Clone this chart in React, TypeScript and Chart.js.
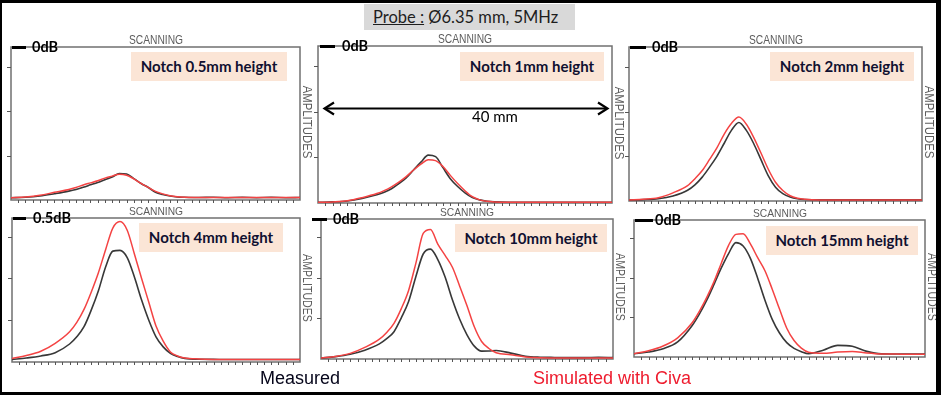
import React, { useEffect, useRef } from "react";
import { Chart, registerables } from "chart.js";

Chart.register(...registerables);

// ---------- DATA ----------
const positionsMm = [0, 2, 4, 6, 8, 9, 10, 11, 12, 13, 14, 15, 16, 17, 18, 19, 20, 21, 22, 23, 24, 26, 28, 30, 32, 34, 36, 38, 40];

const measured05 = [1.5, 1.8, 2.6, 4.1, 5.8, 6.9, 8.3, 9.9, 11.5, 13.3, 15, 17.3, 17, 14, 10.8, 8.2, 5.1, 3.6, 2.6, 2, 1.8, 1.6, 1.8, 1.5, 1.7, 1.5, 1.7, 1.5, 1.6];
const simulated05 = [1.5, 2, 3.1, 5, 6.9, 8.2, 9.8, 11.2, 12.6, 14.3, 15.6, 16.9, 16.2, 13.8, 10.8, 8.2, 5.6, 4, 2.8, 2.1, 1.8, 1.7, 1.7, 1.7, 1.7, 1.7, 1.7, 1.7, 1.7];

const measured1 = [0.4, 0.7, 1.3, 2.9, 5.2, 6.8, 9.1, 12.4, 16, 21, 26, 30.5, 29.5, 22.5, 15.5, 10.5, 6.5, 3.5, 2, 1.1, 0.7, 0.5, 0.5, 0.5, 0.5, 0.5, 0.5, 0.5, 0.5];
const simulated1 = [0.4, 0.7, 1.4, 3.4, 6, 7.9, 10.3, 13.3, 16.8, 21, 24.7, 27.6, 27, 23.2, 17.6, 12.4, 7.8, 4, 2, 1.1, 0.7, 0.5, 0.5, 0.5, 0.5, 0.5, 0.5, 0.5, 0.5];

const measured2 = [0.6, 0.9, 1.5, 3.3, 7, 10.5, 15.5, 22, 29, 37.5, 46, 51, 46, 37.5, 27, 16.5, 9, 4.8, 2.6, 1.5, 1, 0.7, 0.7, 0.7, 0.7, 0.7, 0.7, 0.7, 0.7];
const simulated2 = [0.7, 1.1, 2.1, 5.3, 10, 14.5, 19.8, 27, 34.5, 43.5, 50.5, 54.5, 50, 41.5, 31.3, 20.8, 12.2, 6.8, 3.4, 1.8, 1.1, 0.7, 0.7, 0.7, 0.7, 0.7, 0.7, 0.7, 0.7];

const measured4 = [1.8, 2.8, 4.2, 6.5, 12.5, 17.5, 24.5, 36, 49.5, 66, 77, 77.5, 72.5, 59, 43, 29, 17.5, 10.5, 6, 3.8, 2.5, 1.9, 1.8, 1.7, 1.7, 1.7, 1.7, 1.7, 1.7];
const simulated4 = [2.4, 4.5, 7.5, 13, 21, 27.5, 36.5, 48.5, 62, 78, 93, 97.5, 91.5, 75, 58, 41.5, 25, 14.5, 7, 4.2, 2.8, 2.1, 1.8, 1.7, 1.7, 1.7, 1.7, 1.7, 1.7];

const measured10 = [0.7, 1.7, 3.4, 6.3, 10.8, 14.5, 19.5, 29.4, 41, 59, 75, 78.5, 71, 58.5, 42.3, 28.4, 17.3, 9.2, 5.6, 5.7, 6.1, 4.2, 2, 1.3, 1.1, 1, 1, 1.2, 1];
const simulated10 = [0.7, 1.8, 4, 8.3, 14.2, 19, 25.5, 36, 49, 68.5, 89.7, 92.5, 82, 74, 65.5, 52, 38, 23, 12.5, 7.5, 4.5, 3, 1.5, 0.9, 0.8, 0.8, 0.8, 0.8, 0.8];

const measured15 = [2.4, 3.6, 6, 11, 23, 31.5, 41.5, 53, 65, 75.5, 83.5, 81, 72, 57.5, 41.5, 27.5, 17.5, 10.5, 6.3, 3.9, 2.4, 4.9, 8.5, 7.8, 4.1, 2.3, 2.2, 2.2, 2.2];
const simulated15 = [2.4, 4.5, 8, 14, 25, 33.5, 43.5, 55, 68.5, 81.5, 89.5, 90, 82.5, 72.5, 63, 49.5, 35, 21, 12, 6.5, 3.5, 2.7, 3.6, 4, 2.9, 2.2, 2.1, 2, 2];

const notchLabels = ["Notch 0.5mm height", "Notch 1mm height", "Notch 2mm height", "Notch 4mm height", "Notch 10mm height", "Notch 15mm height"];
const gainLabels = ["0dB", "0dB", "0dB", "0.5dB", "0dB", "0dB"];
const amplitudeTicks = [29, 58, 87];
const scanTickStep = 1;
const measuredSeries = [measured05, measured1, measured2, measured4, measured10, measured15];
const simulatedSeries = [simulated05, simulated1, simulated2, simulated4, simulated10, simulated15];

// ---------- LAYOUT ----------
const PANELS = [
  { left: 11, top: 47, width: 289, height: 153, box: [131, 52, 156, 29], dash: [12, 14], dbX: 32, row: 0 },
  { left: 318, top: 46, width: 294, height: 157, box: [460, 52, 144, 29], dash: [320, 15], dbX: 342, row: 0 },
  { left: 629, top: 47, width: 293, height: 154, box: [770, 52, 144, 29], dash: [630, 16], dbX: 652, row: 0 },
  { left: 12, top: 218, width: 288, height: 144, box: [139, 223, 144, 29], dash: [13, 13], dbX: 33, row: 1 },
  { left: 321, top: 219, width: 292, height: 140, box: [455, 224, 152, 28], dash: [312, 15], dbX: 333, row: 1 },
  { left: 634, top: 220, width: 291, height: 137, box: [766, 226, 152, 29], dash: [635, 18], dbX: 655, row: 1 },
];
const PAD = { left: 5, right: 2, top: 2, bottom: 5 };
const RED = "#f44343";
const DARK = "#383838";
const GREY_TEXT = "#5c5c5c";

const framePlugin = {
  id: "frame",
  beforeDatasetsDraw(chart: any) {
    const { ctx, chartArea: a, scales } = chart;
    const x = scales.x;
    const y = scales.y;
    ctx.save();
    ctx.strokeStyle = "#707070";
    ctx.lineWidth = 1.5;
    ctx.strokeRect(a.left, a.top, a.right - a.left, a.bottom - a.top);
    ctx.strokeStyle = "#555555";
    ctx.lineWidth = 1;
    ctx.beginPath();
    for (let v = scanTickStep; v < 40; v += scanTickStep) {
      const px = Math.round(x.getPixelForValue(v)) + 0.5;
      ctx.moveTo(px, a.bottom);
      ctx.lineTo(px, a.bottom + 3);
    }
    for (const t of amplitudeTicks) {
      const py = Math.round(y.getPixelForValue(t)) + 0.5;
      ctx.moveTo(a.left - 4, py);
      ctx.lineTo(a.left, py);
    }
    ctx.stroke();
    ctx.restore();
  },
};

function Panel({ p, measured, simulated }: any) {
  const ref = useRef<HTMLCanvasElement>(null);
  useEffect(() => {
    const chart = new Chart(ref.current as HTMLCanvasElement, {
      type: "line",
      data: {
        datasets: [
          {
            label: "Simulated with Civa",
            data: positionsMm.map((x, i) => ({ x, y: simulated[i] })),
            borderColor: RED,
            borderWidth: 1.5,
            pointRadius: 0,
            cubicInterpolationMode: "monotone",
            fill: false,
          },
          {
            label: "Measured",
            data: positionsMm.map((x, i) => ({ x, y: measured[i] })),
            borderColor: DARK,
            borderWidth: 1.6,
            pointRadius: 0,
            cubicInterpolationMode: "monotone",
            fill: false,
          },
        ],
      },
      options: {
        animation: false,
        responsive: false,
        maintainAspectRatio: false,
        layout: { padding: PAD },
        scales: {
          x: { type: "linear", min: 0, max: 40, display: false },
          y: { type: "linear", min: 0, max: 100, display: false },
        },
        plugins: { legend: { display: false }, tooltip: { enabled: false } },
      },
      plugins: [framePlugin],
    } as any);
    return () => chart.destroy();
  }, []);
  const w = p.width + PAD.left + PAD.right;
  const h = p.height + PAD.top + PAD.bottom;
  return (
    <canvas
      ref={ref}
      width={w}
      height={h}
      style={{ position: "absolute", left: p.left - PAD.left, top: p.top - PAD.top, width: w, height: h }}
    />
  );
}

function Amplitudes({ cx, cy, scale }: any) {
  return (
    <div
      style={{
        position: "absolute",
        left: cx - 50,
        top: cy - 7,
        width: 100,
        height: 14,
        lineHeight: "14px",
        textAlign: "center",
        fontFamily: "'Liberation Sans', Arial, sans-serif",
        fontSize: 12.5,
        color: GREY_TEXT,
        transform: `rotate(90deg) scaleX(${scale})`,
        whiteSpace: "nowrap",
      }}
    >
      AMPLITUDES
    </div>
  );
}

export default function App() {
  return (
    <div
      style={{
        position: "fixed",
        left: 0,
        top: 0,
        width: 941,
        height: 395,
        background: "#ffffff",
        overflow: "hidden",
      }}
    >
      {/* probe title */}
      <div
        style={{
          position: "absolute",
          left: 364,
          top: 4,
          width: 211,
          height: 26,
          background: "#d9d9d9",
          fontFamily: "Lato, 'Noto Sans', sans-serif",
          fontSize: 16.5,
          lineHeight: "26px",
          color: "#1e1e1e",
          whiteSpace: "nowrap",
        }}
      >
        <span style={{ paddingLeft: 9 }}>
          <span style={{ textDecoration: "underline" }}>Probe :</span> Ø6.35 mm, 5MHz
        </span>
      </div>

      {PANELS.map((p, i) => (
        <Panel key={i} p={p} measured={measuredSeries[i]} simulated={simulatedSeries[i]} />
      ))}

      {PANELS.map((p, i) => (
        <React.Fragment key={"t" + i}>
          {/* SCANNING */}
          <div
            style={{
              position: "absolute",
              left: p.left + p.width / 2 - 50,
              top: p.top - 13,
              width: 100,
              textAlign: "center",
              fontFamily: "'Liberation Sans', Arial, sans-serif",
              fontSize: 12.5,
              lineHeight: "12px",
              color: GREY_TEXT,
              transform: p.row === 0 ? "scaleX(0.82)" : "scale(0.82, 0.8)",
              transformOrigin: "50% 80%",
            }}
          >
            SCANNING
          </div>
          {/* AMPLITUDES */}
          <Amplitudes cx={p.left + p.width + 7} cy={p.top + p.height / 2 - 2} scale={p.row === 0 ? 0.91 : 0.85} />
          {/* notch label box */}
          <div
            style={{
              position: "absolute",
              left: p.box[0],
              top: p.box[1],
              width: p.box[2],
              height: p.box[3],
              lineHeight: p.box[3] + "px",
              background: "#fbe5d6",
              textAlign: "center",
              fontFamily: "Lato, 'Noto Sans', sans-serif",
              fontWeight: 700,
              fontSize: 15,
              color: "#101030",
              whiteSpace: "nowrap",
            }}
          >
            {notchLabels[i]}
          </div>
          {/* gain marker */}
          <div
            style={{
              position: "absolute",
              left: p.dash[0],
              top: p.top - 1.5,
              width: p.dash[1],
              height: 3,
              background: "#000",
            }}
          />
          <div
            style={{
              position: "absolute",
              left: p.dbX,
              top: p.top - 9,
              lineHeight: "18px",
              fontFamily: "Lato, 'Noto Sans', sans-serif",
              fontWeight: 700,
              fontSize: 14.5,
              color: "#000",
              whiteSpace: "nowrap",
            }}
          >
            {gainLabels[i]}
          </div>
        </React.Fragment>
      ))}

      {/* 40 mm arrow */}
      <svg
        width={941}
        height={395}
        style={{ position: "absolute", left: 0, top: 0, pointerEvents: "none" }}
      >
        <line x1={325} y1={108.5} x2={606} y2={108.5} stroke="#000" strokeWidth={2.2} />
        <polyline points="334,102.5 324.5,108.5 334,114.5" fill="none" stroke="#000" strokeWidth={2.2} />
        <polyline points="598,102.5 607.5,108.5 598,114.5" fill="none" stroke="#000" strokeWidth={2.2} />
      </svg>
      <div
        style={{
          position: "absolute",
          left: 472,
          top: 109,
          lineHeight: "15px",
          fontFamily: "Lato, 'Noto Sans', sans-serif",
          fontSize: 15,
          color: "#000",
          whiteSpace: "nowrap",
        }}
      >
        40 mm
      </div>

      {/* legend texts */}
      <div
        style={{
          position: "absolute",
          left: 260,
          top: 368,
          fontFamily: "'Liberation Sans', Arial, sans-serif",
          fontSize: 18,
          color: "#05051a",
          whiteSpace: "nowrap",
        }}
      >
        Measured
      </div>
      <div
        style={{
          position: "absolute",
          left: 533,
          top: 368,
          fontFamily: "'Liberation Sans', Arial, sans-serif",
          fontSize: 18,
          color: "#ee1c2e",
          whiteSpace: "nowrap",
        }}
      >
        Simulated with Civa
      </div>

      {/* black outer border */}
      <div style={{ position: "absolute", left: 0, top: 0, width: 941, height: 3, background: "#000" }} />
      <div style={{ position: "absolute", left: 0, top: 392, width: 941, height: 3, background: "#000" }} />
      <div style={{ position: "absolute", left: 0, top: 0, width: 2, height: 395, background: "#000" }} />
      <div style={{ position: "absolute", left: 936, top: 0, width: 5, height: 395, background: "#000" }} />
    </div>
  );
}
